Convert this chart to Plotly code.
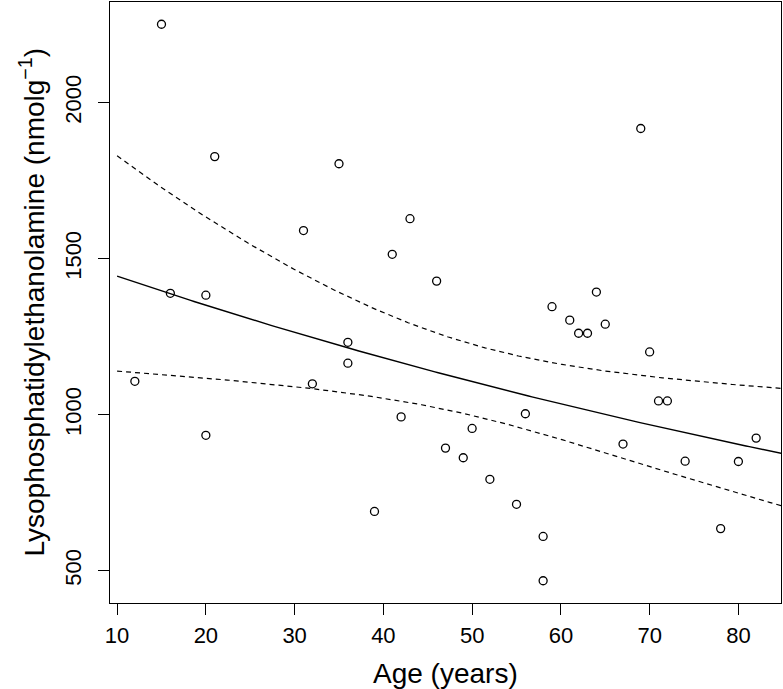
import numpy as np
import plotly.graph_objects as go

# Data
age = [15, 21, 16, 20, 12, 20, 31, 35, 32, 36, 36, 39, 41, 43, 42, 46, 47, 49, 50,
       52, 55, 56, 58, 58, 59, 61, 62, 63, 64, 65, 67, 69, 70, 71, 72, 74, 78, 80, 82]
lpe = [2251, 1827, 1389, 1383, 1107, 934, 1590, 1804, 1099, 1232, 1165, 690, 1514,
       1628, 993, 1428, 893, 862, 956, 793, 713, 1003, 610, 468, 1346, 1303, 1261,
       1261, 1393, 1290, 906, 1917, 1201, 1044, 1044, 851, 635, 850, 925]

x_ticks = [10, 20, 30, 40, 50, 60, 70, 80]
y_ticks = [500, 1000, 1500, 2000]
x_title = "Age (years)"
y_title = "Lysophosphatidylethanolamine (nmolg<sup>−1</sup>)"
T_CRIT = 2.026  # t quantile (0.975, df = n - 2)

# Log-linear regression with 95% confidence band for the mean
xa = np.array(age, dtype=float)
ya = np.log(np.array(lpe, dtype=float))
n = len(xa)
xbar = xa.mean()
sxx = ((xa - xbar) ** 2).sum()
b = ((xa - xbar) * (ya - ya.mean())).sum() / sxx
a = ya.mean() - b * xbar
resid = ya - (a + b * xa)
s = np.sqrt((resid ** 2).sum() / (n - 2))

xg = np.linspace(10, 85, 200)
fit = a + b * xg
se = s * np.sqrt(1.0 / n + (xg - xbar) ** 2 / sxx)
upper = np.exp(fit + T_CRIT * se)
lower = np.exp(fit - T_CRIT * se)
center = np.exp(fit)

# R-style 4% axis extension
def rng(v):
    lo, hi = min(v), max(v)
    d = (hi - lo) * 0.04
    return [lo - d, hi + d]

fig = go.Figure()
fig.add_trace(go.Scatter(x=age, y=lpe, mode="markers",
                         marker=dict(symbol="circle-open", size=8, color="black",
                                     line=dict(width=1.3, color="black")),
                         showlegend=False))
fig.add_trace(go.Scatter(x=xg, y=center, mode="lines",
                         line=dict(color="black", width=1.5), showlegend=False))
for yy in (upper, lower):
    fig.add_trace(go.Scatter(x=xg, y=yy, mode="lines",
                             line=dict(color="black", width=1.2, dash="5px,4px"),
                             showlegend=False))

font = "Liberation Sans, Arial, Helvetica, sans-serif"
fig.update_layout(
    width=783, height=689,
    margin=dict(l=110, r=2, t=2, b=86),
    paper_bgcolor="white", plot_bgcolor="white",
    font=dict(family=font, color="black", size=22),
)
fig.update_xaxes(range=rng(age), tickvals=x_ticks, ticks="outside", ticklen=11,
                 tickwidth=1, tickcolor="black", showline=True, mirror=True,
                 linecolor="black", linewidth=1, showgrid=False, zeroline=False,
                 tickfont=dict(size=22), automargin=False, ticklabelstandoff=2)
fig.update_yaxes(range=rng(lpe), tickvals=y_ticks, ticks="outside", ticklen=11,
                 tickwidth=1, tickcolor="black", showline=True, mirror=True,
                 linecolor="black", linewidth=1, showgrid=False, zeroline=False,
                 tickangle=-90, tickfont=dict(size=22), automargin=False,
                 ticklabelstandoff=8)

fig.add_annotation(text=x_title, xref="paper", yref="paper", x=0.5, y=0,
                   xanchor="center", yanchor="middle", yshift=-70, showarrow=False,
                   font=dict(size=28, family=font, color="black"))
fig.add_annotation(text=y_title, xref="paper", yref="paper", x=0, y=0.5,
                   xanchor="center", yanchor="middle", xshift=-78, textangle=-90,
                   showarrow=False, font=dict(size=28, family=font, color="black"))

fig.write_html("out.html", config={"displayModeBar": False},
               post_script="document.body.style.margin='0';"
                           "document.body.style.overflow='hidden';")
